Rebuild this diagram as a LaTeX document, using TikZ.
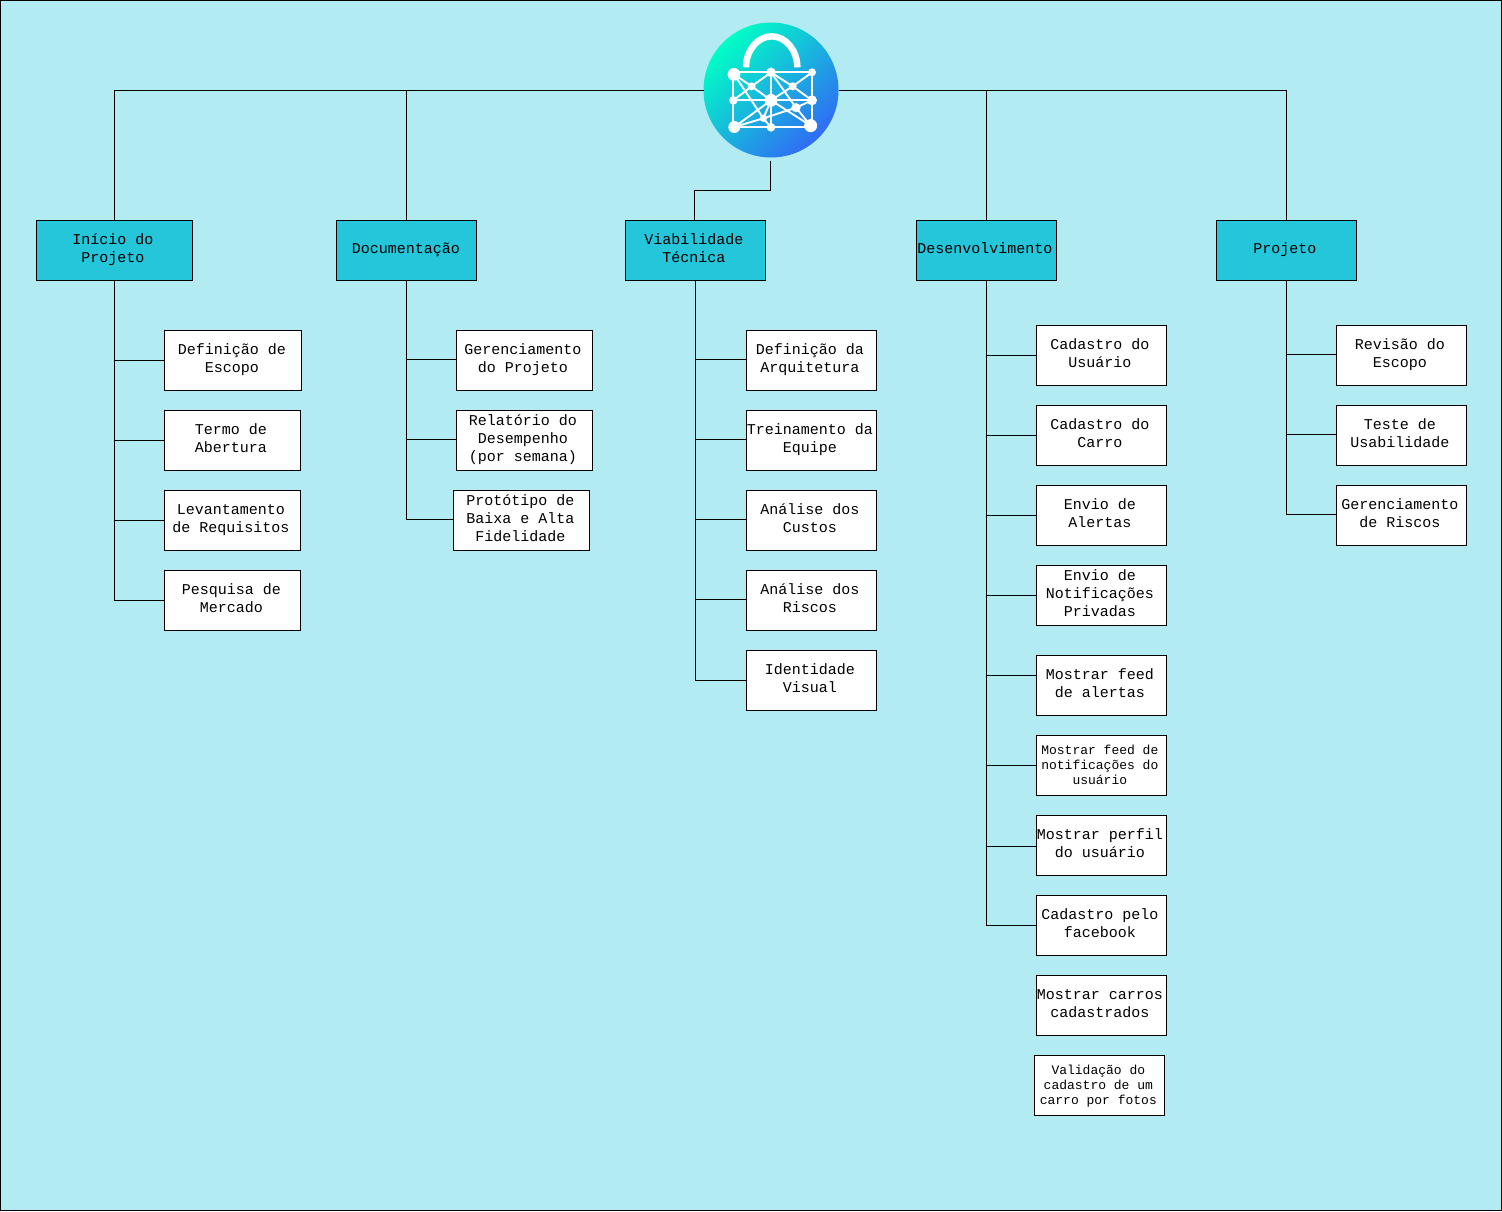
\documentclass[tikz,border=0pt]{standalone}
\usepackage{fontspec}
\setmonofont{Liberation Mono}
\definecolor{bgc}{HTML}{B2EBF2}
\definecolor{headc}{HTML}{26C6DA}
\definecolor{logoA}{RGB}{0,255,198}
\definecolor{logoB}{RGB}{48,108,245}
\tikzset{
  base/.style={draw=black,line width=1pt,inner sep=0pt,outer sep=0pt},
  leaf/.style={base,fill=white},
  head/.style={base,fill=headc},
  txt/.style={align=center,inner sep=0pt,yshift=0.6pt,font=\fontsize{15}{18}\selectfont\ttfamily},
  small/.style={align=center,inner sep=0pt,yshift=-0.5pt,font=\fontsize{13}{15}\selectfont\ttfamily},
  link/.style={draw=black,line width=1pt},
  wire/.style={draw=white,line width=1.9pt},
  dot/.style={fill=white,draw=none}
}
% \bx{style}{text style}{name}{x1}{y1}{x2}{y2}{text}
\newcommand{\bx}[8]{%
  \pgfmathsetmacro{\bxw}{#6-#4}\pgfmathsetmacro{\bxh}{#7-#5}%
  \pgfmathsetmacro{\bxx}{(#4+#6)/2}\pgfmathsetmacro{\bxy}{(#5+#7)/2}%
  \node[#1,minimum width=\bxw pt,minimum height=\bxh pt,
        label={[#2,xshift=-1.2pt]center:{\strut #8\strut}}] (#3) at (\bxx,\bxy) {};}
\begin{document}
\begin{tikzpicture}[x=1pt,y=-1pt]
\useasboundingbox (0,0) rectangle (1502,1211);
\fill[bgc] (0,0) rectangle (1502,1211);
\draw[black,line width=1pt] (0.5,0.5) rectangle (1501.5,1210.5);

% logo node
\node[circle,minimum size=135pt,inner sep=0pt,outer sep=0pt,left color=logoA,right color=logoB,shading angle=45] (logo) at (771,90) {};
\coordinate (logoS) at (770.5,161);

% headers
\bx{head}{txt}{ini}{36}{220.5}{192}{280.5}{Início do\\Projeto}
\bx{head}{txt}{doc}{336}{220.5}{476}{280.5}{\hspace*{2.4pt}Documentação}
\bx{head}{txt}{via}{625}{220.5}{765}{280.5}{Viabilidade\\Técnica}
\bx{head}{txt}{des}{916}{220.5}{1056}{280.5}{Desenvolvimento}
\bx{head}{txt}{pro}{1216}{220.5}{1356}{280.5}{Projeto}

% top connectors
\draw[link] ([yshift=-0.5pt]logo.west) -| ([xshift=.5pt]ini.north);
\draw[link] ([yshift=-0.5pt]logo.west) -| ([xshift=.5pt]doc.north);
\draw[link] ([yshift=-0.5pt]logo.east) -| ([xshift=.5pt]des.north);
\draw[link] ([yshift=-0.5pt]logo.east) -| ([xshift=.5pt]pro.north);
\draw[link] (logoS) -- ++(0,29.5) -| ([xshift=-.5pt]via.north);

% Inicio
\bx{leaf}{txt}{i1}{164.5}{330.5}{301.5}{390.5}{Definição de\\Escopo}
\bx{leaf}{txt}{i2}{164}{410.5}{300}{470.5}{Termo de\\Abertura}
\bx{leaf}{txt}{i3}{164}{490.5}{300}{550.5}{Levantamento\\de Requisitos}
\bx{leaf}{txt}{i4}{164.5}{570.5}{300.5}{630.5}{Pesquisa de\\Mercado}
\foreach \n in {i1,i2,i3,i4} \draw[link] ([xshift=.5pt]ini.south) |- (\n.west);

% Documentacao
\bx{leaf}{txt}{d1}{456}{330.5}{592}{390.5}{Gerenciamento\\do Projeto}
\bx{leaf}{txt}{d2}{456}{410.5}{592}{470.5}{Relatório do\\Desempenho\\(por semana)}
\bx{leaf}{txt}{d3}{453.5}{490.5}{589.5}{550.5}{Protótipo de\\Baixa e Alta\\Fidelidade}
\foreach \n in {d1,d2,d3} \draw[link] ([xshift=.5pt]doc.south) |- ([yshift=1pt]\n.west);

% Viabilidade
\bx{leaf}{txt}{v1}{746}{330.5}{876}{390.5}{Definição da\\Arquitetura}
\bx{leaf}{txt}{v2}{746}{410.5}{876}{470.5}{Treinamento da\\Equipe}
\bx{leaf}{txt}{v3}{746}{490.5}{876}{550.5}{Análise dos\\Custos}
\bx{leaf}{txt}{v4}{746}{570.5}{876}{630.5}{Análise dos\\Riscos}
\bx{leaf}{txt}{v5}{746}{650.5}{876}{710.5}{Identidade\\Visual}
\foreach \n in {v1,v2,v3,v4} \draw[link] (via.south) |- ([yshift=1pt]\n.west);
\draw[link] (via.south) |- (v5.west);

% Desenvolvimento
\bx{leaf}{txt}{e1}{1036}{325.5}{1166}{385.5}{Cadastro do\\Usuário}
\bx{leaf}{txt}{e2}{1036}{405.5}{1166}{465.5}{Cadastro do\\Carro}
\bx{leaf}{txt}{e3}{1036}{485.5}{1166}{545.5}{Envio de\\Alertas}
\bx{leaf}{txt}{e4}{1036}{565.5}{1166}{625.5}{Envio de\\Notificações\\Privadas}
\bx{leaf}{txt}{e5}{1036}{655.5}{1166}{715.5}{Mostrar feed\\de alertas}
\bx{leaf}{small}{e6}{1036}{735.5}{1166}{795.5}{Mostrar feed de\\notificações do\\usuário}
\bx{leaf}{txt}{e7}{1036}{815.5}{1166}{875.5}{Mostrar perfil\\do usuário}
\bx{leaf}{txt}{e8}{1036}{895.5}{1166}{955.5}{Cadastro pelo\\facebook}
\bx{leaf}{txt}{e9}{1036}{975.5}{1166}{1035.5}{Mostrar carros\\cadastrados}
\bx{leaf}{small}{e10}{1034.5}{1055.5}{1164.5}{1115.5}{Validação do\\cadastro de um\\carro por fotos}
\foreach \n in {e1,e2,e3,e4,e6,e8} \draw[link] (des.south) |- (\n.west);
\draw[link] (des.south) |- ([yshift=-0.5pt]e7.west);
\draw[link] (des.south) |- ([yshift=10pt]e5.west);

% Projeto
\bx{leaf}{txt}{p1}{1336}{325.5}{1466}{385.5}{Revisão do\\Escopo}
\bx{leaf}{txt}{p2}{1336}{405.5}{1466}{465.5}{Teste de\\Usabilidade}
\bx{leaf}{txt}{p3}{1336}{485.5}{1466}{545.5}{Gerenciamento\\de Riscos}
\foreach \n in {p1,p2,p3} \draw[link] ([xshift=.5pt]pro.south) |- ([yshift=1pt]\n.west);

% padlock drawing
\begin{scope}[shift={(690,10)},x=0.3333pt,y=-0.3333pt]
\coordinate (TL) at (132,193); \coordinate (TM) at (243,187); \coordinate (TR) at (366,187);
\coordinate (ML) at (130,271); \coordinate (MC) at (243,271); \coordinate (MR) at (366,271);
\coordinate (BL) at (133,351); \coordinate (BM) at (243,352); \coordinate (BR) at (362,347);
\coordinate (PA) at (185,229); \coordinate (PB) at (308,229); \coordinate (PC) at (318,293); \coordinate (PD) at (220,325);
\draw[white,line width=6.5pt] (168,172) .. controls (168,121) and (203,79) .. (245,79) .. controls (287,79) and (322,121) .. (322,172);
\draw[wire] (130,187) rectangle (366,352);
\draw[wire] (TM) -- (BM) (ML) -- (MR);
\draw[wire] (TL) -- (PA) -- (MC) (TM) -- (PA) -- (ML);
\draw[wire] (TM) -- (PB) -- (MR) (TR) -- (PB) -- (MC);
\draw[wire] (TM) -- (PC) -- (BR) (MC) -- (BR);
\draw[wire] (MR) -- (PC) -- (PD) -- (BL) (MC) -- (PD);
\draw[wire] (TL) -- (PD) -- (BM) (BL) -- (MC);
\foreach \c/\r in {TL/6.4,TM/4.8,TR/4,ML/4.3,MC/6.4,MR/5,BL/6,BM/4.3,BR/6.5,PA/4,PB/4,PC/4.6,PD/3.6}
  \fill[dot] (\c) circle[radius=\r pt];
\end{scope}
\end{tikzpicture}
\end{document}
